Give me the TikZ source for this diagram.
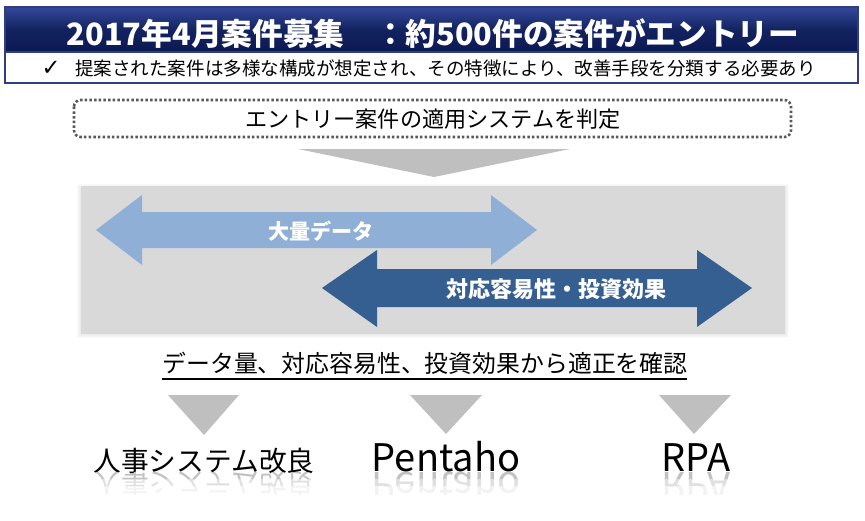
\documentclass[tikz,border=0pt]{standalone}
\usepackage{fontspec}
\setmainfont{Noto Sans CJK JP}
\newfontfamily\symfont{DejaVu Sans}
\definecolor{navytop}{HTML}{34489A}
\definecolor{navymid}{HTML}{132360}
\definecolor{navybot}{HTML}{0C1852}
\definecolor{navyline}{HTML}{2E3E80}
\definecolor{panelgray}{HTML}{D9D9D9}
\definecolor{trigray}{HTML}{BFBFBF}
\definecolor{dotgray}{HTML}{595959}
\definecolor{lightarrow}{HTML}{8FAFD7}
\definecolor{darkarrow}{HTML}{355E91}
\tikzset{
  txt/.style={inner sep=0pt, anchor=base},
  tri/.style={fill=trigray, draw=none},
  refl/.style={inner sep=0pt, anchor=base, yscale=-1},
  bigfont/.style={font=\fontsize{28.5}{32}\selectfont},
  hrfont/.style={font=\fontsize{20.8}{24}\selectfont},
}
\begin{document}
\begin{tikzpicture}[x=0.75pt,y=-0.75pt]
\useasboundingbox (0,0) rectangle (865,521);
% header bar
\path[top color=navytop, bottom color=navybot, middle color=navymid] (5,7) rectangle (858,52);
\draw[navyline, line width=0.8pt] (5,7) rectangle (858,52);
\node[txt, text=white, font=\fontsize{23}{26}\selectfont\bfseries] (title) at (433,45.5)
  {2017年4月案件募集　：約500件の案件がエントリー};
% subtitle box
\draw[navyline, line width=1pt, fill=white] (5,52) rectangle (858,83);
\node[txt, font=\symfont\fontsize{17}{19}\selectfont] (check) at (51,75.5) {✓};
\node[txt, anchor=base west, font=\fontsize{13.9}{16}\selectfont] (sub) at (75,75)
  {提案された案件は多様な構成が想定され、その特徴により、改善手段を分類する必要あり};
% dotted box
\draw[dotgray, line width=1.9pt, dash pattern=on 1.9pt off 1.6pt, rounded corners=5pt]
  (74,100) rectangle (791,137);
\node[txt, font=\fontsize{16.6}{19}\selectfont] (judge) at (433,127.5) {エントリー案件の適用システムを判定};
% funnel triangle
\fill[trigray] (298,149) -- (570,149) -- (434,177) -- cycle;
% panel with soft shadow
\foreach \i in {1,...,4} {
  \fill[black, opacity=0.018] (81-\i,186-\i+2) rectangle (785+\i,334+\i);
}
\fill[panelgray] (81,186) rectangle (785,334);
% light arrow
\fill[lightarrow] (96,230) -- (142,195) -- (142,212) -- (491,212) -- (491,195) -- (537,230)
  -- (491,265) -- (491,248) -- (142,248) -- (142,265) -- cycle;
\node[txt, text=white, font=\fontsize{15.8}{18}\selectfont\bfseries] (bigdata) at (321,239) {大量データ};
% dark arrow
\fill[darkarrow] (322,288) -- (377,250) -- (377,269) -- (697,269) -- (697,250) -- (752,288)
  -- (697,327) -- (697,307) -- (377,307) -- (377,327) -- cycle;
\node[txt, text=white, font=\fontsize{16.5}{19}\selectfont\bfseries] (effect) at (556,297) {対応容易性・投資効果};
% underlined text
\node[txt, font=\fontsize{17.9}{20}\selectfont] (confirm) at (425,372.5) {データ量、対応容易性、投資効果から適正を確認};
\draw[black, line width=1.1pt] (162,379) -- (687,379);
% bottom triangles
\fill[trigray] (168,395) -- (239,395) -- (204,435) -- cycle;
\fill[trigray] (410,395) -- (482,395) -- (446,434) -- cycle;
\fill[trigray] (659,395) -- (731,395) -- (694,434) -- cycle;
% bottom labels
\node[txt, hrfont] (hr) at (204,471) {人事システム改良};
\node[txt, bigfont] (pentaho) at (446,471) {Pentaho};
\node[txt, bigfont] (rpa) at (696,471) {RPA};
% reflections, fading downward
\begin{scope}
\clip (60,472) rectangle (760,479);
\node[refl, hrfont, text=black!24] (hrr1) at (204,472) {人事システム改良};
\node[refl, bigfont, text=black!24] (pentahor1) at (446,472) {Pentaho};
\node[refl, bigfont, text=black!24] (rpar1) at (696,472) {RPA};
\end{scope}
\begin{scope}
\clip (60,479) rectangle (760,486);
\node[refl, hrfont, text=black!12] (hrr2) at (204,472) {人事システム改良};
\node[refl, bigfont, text=black!12] (pentahor2) at (446,472) {Pentaho};
\node[refl, bigfont, text=black!12] (rpar2) at (696,472) {RPA};
\end{scope}
\begin{scope}
\clip (60,486) rectangle (760,494);
\node[refl, hrfont, text=black!5] (hrr3) at (204,472) {人事システム改良};
\node[refl, bigfont, text=black!5] (pentahor3) at (446,472) {Pentaho};
\node[refl, bigfont, text=black!5] (rpar3) at (696,472) {RPA};
\end{scope}
\end{tikzpicture}
\end{document}
